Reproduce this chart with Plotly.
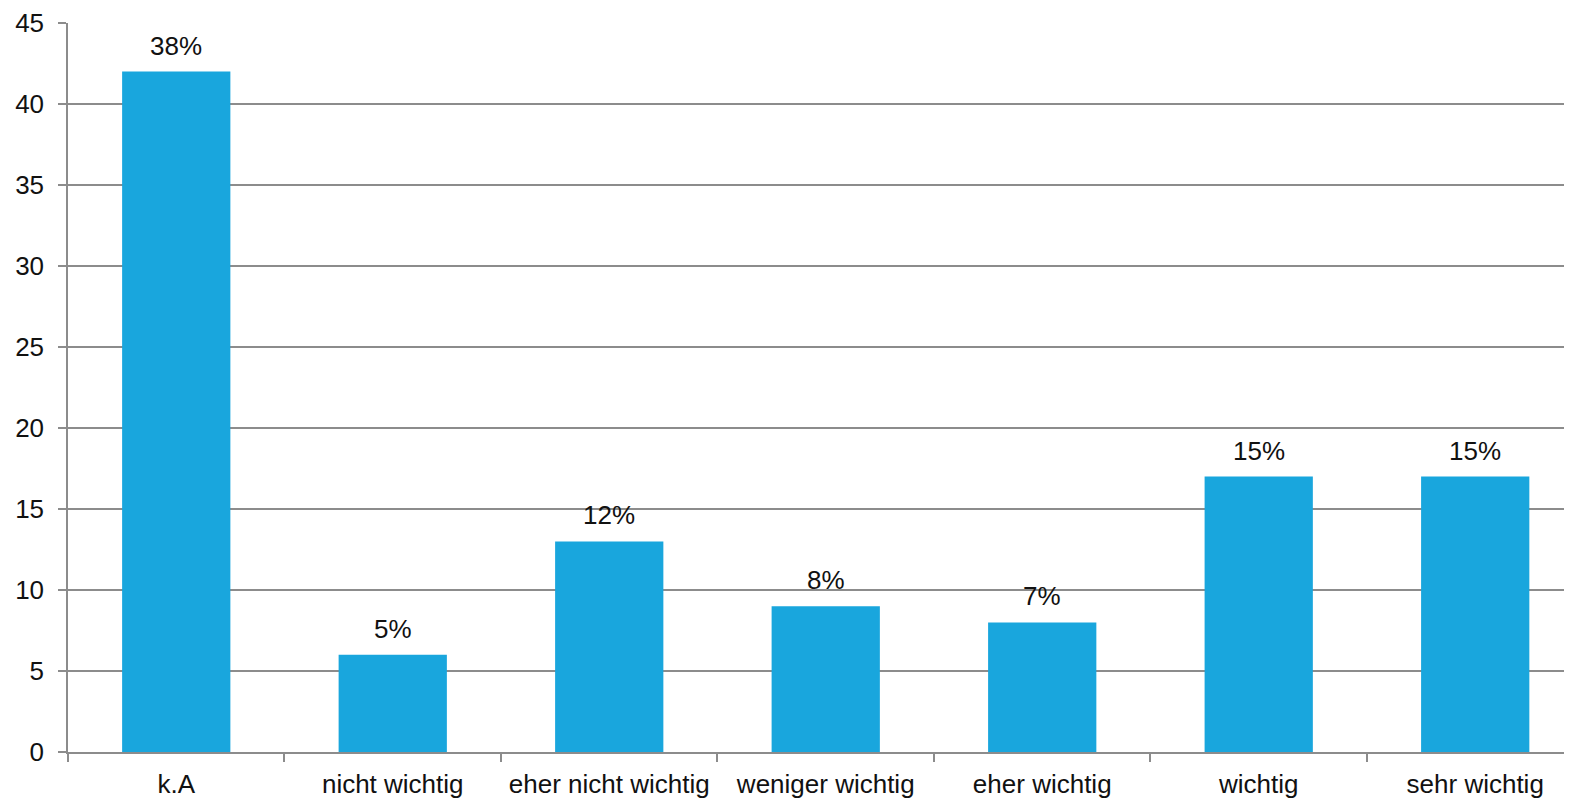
import plotly.graph_objects as go

categories = ["k.A", "nicht wichtig", "eher nicht wichtig", "weniger wichtig", "eher wichtig", "wichtig", "sehr wichtig"]
counts = [42, 6, 13, 9, 8, 17, 17]
percent_labels = ["38%", "5%", "12%", "8%", "7%", "15%", "15%"]
y_ticks = [0, 5, 10, 15, 20, 25, 30, 35, 40, 45]

BAR = "#19a6dd"
GRID = "#8c8c8c"
FONT = "Liberation Sans, Arial, sans-serif"

fig = go.Figure()
fig.add_trace(go.Bar(
    x=categories, y=counts, marker=dict(color=BAR, line=dict(width=0)),
    width=0.5, hoverinfo="x+y"
))

for c, v, t in zip(categories, counts, percent_labels):
    fig.add_annotation(x=c, y=v, text=t, showarrow=False, yanchor="bottom",
                       yshift=9, font=dict(size=26, color="#111111", family=FONT))

fig.update_layout(
    width=1572, height=800,
    margin=dict(l=60, r=0, t=15, b=56),
    paper_bgcolor="white", plot_bgcolor="white",
    showlegend=False,
    font=dict(family=FONT, size=26, color="#111111"),
)
fig.update_xaxes(
    range=[-0.5, 6.484], showgrid=False,
    showline=True, linecolor=GRID, linewidth=1.5,
    ticks="outside", tickson="boundaries", ticklen=8, tickcolor=GRID, tickwidth=1.5,
    tickfont=dict(size=26), ticklabelstandoff=8,
)
fig.update_yaxes(
    range=[0, 45], tickvals=y_ticks, showgrid=True, gridcolor=GRID, gridwidth=1.5,
    showline=True, linecolor=GRID, linewidth=1.5, zeroline=False,
    ticks="outside", ticklen=8, tickcolor=GRID, tickwidth=1.5,
    tickfont=dict(size=26), ticklabelstandoff=9,
)

fig.write_html("out.html")
